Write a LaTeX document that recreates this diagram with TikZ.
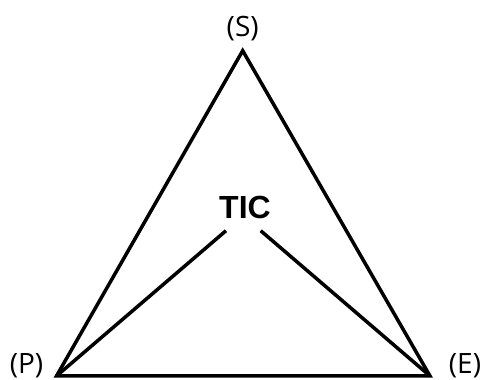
\documentclass[tikz,border=0pt]{standalone}
\usepackage{fontspec}
\setmainfont{Open Sans}
\newfontfamily\ticfont{Liberation Sans}
\begin{document}
\begin{tikzpicture}[x=1pt,y=1pt,
  edge/.style={line width=3.5pt, line join=miter, black},
  vlabel/.style={font=\fontsize{28}{28}\selectfont, inner sep=0pt, anchor=center},
  ticlabel/.style={font=\ticfont\bfseries\fontsize{32}{32}\selectfont, inner sep=0pt, anchor=center}]
\useasboundingbox (0,0) rectangle (483,380);
\coordinate (S) at (242.7,329.3);
\coordinate (P) at (56.5,4);
\coordinate (E) at (430,4);
\coordinate (tl) at (226,149.3);
\coordinate (tr) at (260.7,149.3);
\node[vlabel] (ls) at (242.7,351) {(S)};
\node[vlabel] (lp) at (26.5,14) {(P)};
\node[vlabel] (le) at (465,14) {(E)};
\node[ticlabel] (tic) at (245,173) {TIC};
\draw[edge] (S) -- (E) -- (P) -- cycle;
\draw[edge] (P) -- (tl);
\draw[edge] (E) -- (tr);
\end{tikzpicture}
\end{document}
